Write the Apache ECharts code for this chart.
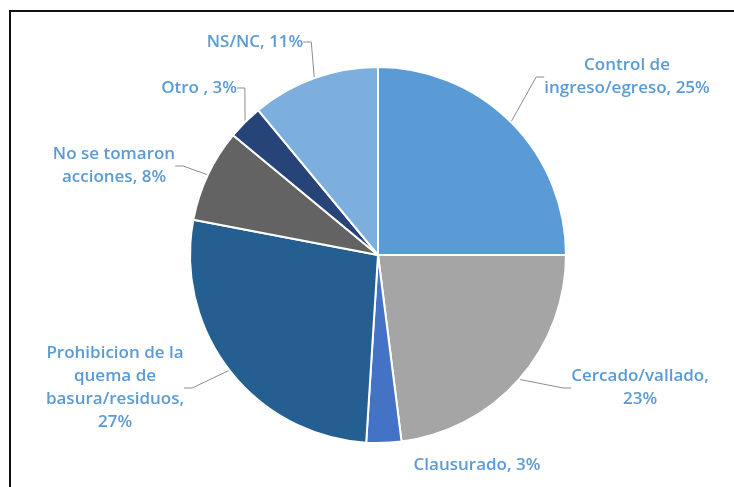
<!DOCTYPE html>
<html>
<head>
<meta charset="utf-8">
<script src="https://cdn.jsdelivr.net/npm/echarts@6/dist/echarts.min.js"></script>
<style>
  html, body { margin: 0; padding: 0; background: #fff; }
  #frame { position: absolute; left: 9px; top: 10px; width: 740px; height: 490px;
           border-left: 2px solid #111; border-top: 2px solid #111; }
  #main { position: absolute; left: 0; top: 0; width: 734px; height: 487px; }
</style>
</head>
<body>
<div id="frame"></div>
<div id="main"></div>
<script>
// categories, clockwise from 12 o'clock
var categories = ['Control de\ningreso/egreso', 'Cercado/vallado,\n', 'Clausurado', 'Prohibicion de la\nquema de\nbasura/residuos,\n', 'No se tomaron\nacciones', 'Otro ', 'NS/NC'];
var values = [25, 23, 3, 27, 8, 3, 11];
var colors = ['#5b9bd5', '#a5a5a5', '#4472c4', '#255e91', '#636363', '#264478', '#7cafdd'];

// label centre points (layout only)
var labelPos = [[627, 77], [640, 388], [477, 465], [115, 388], [114, 166], [199, 88], [255, 42]];

var chart = echarts.init(document.getElementById('main'));
var data = categories.map(function (c, i) {
    var d = { name: c, value: values[i], itemStyle: { color: colors[i] } };
    if (i === 2) d.labelLine = { show: false };
    return d;
});

chart.setOption({
    animation: false,
    series: [{
        type: 'pie',
        center: [378, 255],
        radius: 188,
        startAngle: 90,
        clockwise: true,
        data: data,
        itemStyle: { borderColor: '#fff', borderWidth: 2 },
        label: {
            show: true,
            position: 'outside',
            color: '#5b9bd5',
            fontFamily: 'Open Sans',
            fontWeight: 600,
            fontSize: 17,
            lineHeight: 23,
            align: 'center',
            formatter: function (p) {
                var n = p.name;
                if (n.charAt(n.length - 1) === '\n') return n + p.value + '%';
                return n + ', ' + p.value + '%';
            }
        },
        labelLine: {
            show: true,
            length: 8,
            length2: 8,
            lineStyle: { color: '#8c8c8c', width: 1 }
        },
        labelLayout: function (params) {
            var p = labelPos[params.dataIndex];
            return { x: p[0], y: p[1], align: 'center', verticalAlign: 'middle' };
        }
    }]
});
</script>
</body>
</html>
